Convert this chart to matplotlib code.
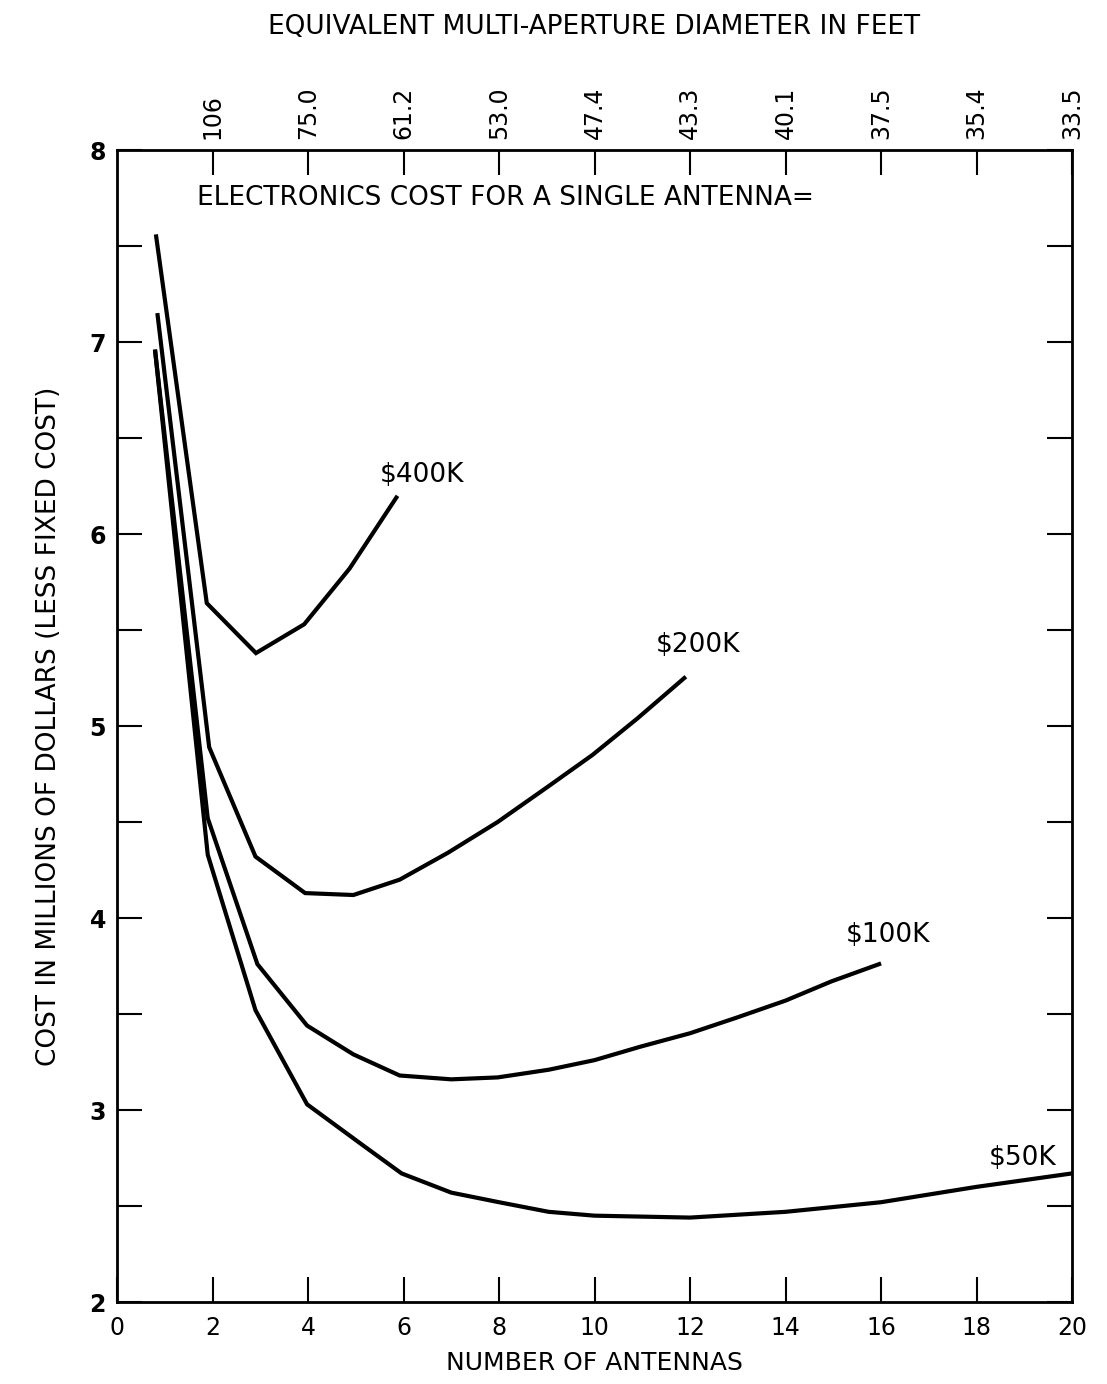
import matplotlib
matplotlib.use("Agg")
import matplotlib.pyplot as plt

# number of antennas (x) vs cost in millions (y)
x400 = [0.82, 1.88, 2.91, 3.92, 4.87, 5.85]
y400 = [7.55, 5.64, 5.38, 5.53, 5.82, 6.19]

x200 = [0.85, 1.93, 2.90, 3.94, 4.95, 5.92, 6.93, 7.97, 9.00, 9.96, 10.90, 11.88]
y200 = [7.14, 4.89, 4.32, 4.13, 4.12, 4.20, 4.34, 4.50, 4.68, 4.85, 5.04, 5.25]

x100 = [0.80, 1.90, 2.94, 3.98, 4.95, 5.92, 7.00, 7.97, 9.04, 10.00, 10.96,
        12.00, 12.96, 14.00, 14.96, 15.96]
y100 = [6.95, 4.52, 3.76, 3.44, 3.29, 3.18, 3.16, 3.17, 3.21, 3.26, 3.33,
        3.40, 3.48, 3.57, 3.67, 3.76]

x50 = [0.80, 1.90, 2.90, 3.98, 5.13, 5.96, 7.00, 8.00, 9.04, 10.00, 12.00,
       14.00, 16.00, 18.00, 20.00]
y50 = [6.95, 4.33, 3.52, 3.03, 2.82, 2.67, 2.57, 2.52, 2.47, 2.45, 2.44,
       2.47, 2.52, 2.60, 2.67]

curve_labels = ["$400K", "$200K", "$100K", "$50K"]
label_pos = [(5.5, 6.31), (11.28, 5.42), (15.26, 3.91), (18.26, 2.75)]

top_ticks = [2, 4, 6, 8, 10, 12, 14, 16, 18, 20]
top_labels = ["106", "75.0", "61.2", "53.0", "47.4", "43.3", "40.1", "37.5", "35.4", "33.5"]

plt.rcParams['font.family'] = ['DejaVu Sans']

fig = plt.figure(figsize=(11.07, 13.84), dpi=100)
ax = fig.add_axes([0.1057, 0.0592, 0.8627, 0.8324])

for xs, ys in [(x400, y400), (x200, y200), (x100, y100), (x50, y50)]:
    ax.plot(xs, ys, color="black", linewidth=3.0, solid_joinstyle="miter")

for txt, (lx, ly) in zip(curve_labels, label_pos):
    ax.text(lx, ly, txt, fontsize=19, ha="left", va="center")

ax.text(1.68, 7.75, "ELECTRONICS COST FOR A SINGLE ANTENNA=", fontsize=19,
        ha="left", va="center")

ax.set_xlim(0, 20)
ax.set_ylim(2, 8)

ax.set_xticks(range(0, 21, 2))
ax.set_xticklabels([str(v) for v in range(0, 21, 2)], fontsize=17)
ax.set_yticks([2, 3, 4, 5, 6, 7, 8])
ax.set_yticklabels(["2", "3", "4", "5", "6", "7", "8"], fontsize=17, fontweight="bold")
ax.set_yticks([2.5, 3.5, 4.5, 5.5, 6.5, 7.5], minor=True)

ax.tick_params(axis="x", direction="in", length=18, width=1.5, pad=10)
ax.tick_params(axis="y", which="both", direction="in", length=18, width=1.5,
               right=True, pad=8)

for sp in ax.spines.values():
    sp.set_linewidth(2.0)

ax.set_xlabel("NUMBER OF ANTENNAS", fontsize=18, labelpad=8)
ax.set_ylabel("COST IN MILLIONS OF DOLLARS (LESS FIXED COST)", fontsize=19, labelpad=20)

top = ax.twiny()
top.set_xlim(ax.get_xlim())
top.set_xticks(top_ticks)
top.set_xticklabels(top_labels, rotation=90, fontsize=17)
top.tick_params(axis="x", direction="in", length=18, width=1.5, pad=8)
top.set_xlabel("EQUIVALENT MULTI-APERTURE DIAMETER IN FEET", fontsize=19, labelpad=38)

fig.savefig("out.png", dpi=100)
